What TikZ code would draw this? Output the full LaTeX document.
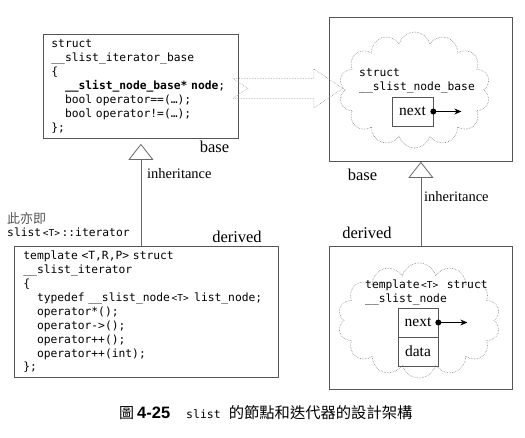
\documentclass[tikz,border=0pt]{standalone}
\usepackage{fontspec}
\setmainfont{Liberation Serif}
\newfontfamily\codefont{DejaVu Sans Mono}
\newfontfamily\cjkfont{Noto Sans CJK TC}
\newfontfamily\capsans{Liberation Sans}
\usepackage{tikz}
\usetikzlibrary{arrows.meta,shapes.symbols,positioning}
\usepackage{xcolor}
\definecolor{boxgray}{RGB}{85,85,85}
\definecolor{linegray}{RGB}{105,105,105}
\definecolor{dotgray}{RGB}{130,130,130}
\newcommand{\code}{\codefont\fontsize{11.3}{13.9}\selectfont}
\newcommand{\smallT}{\makebox[20.4pt]{\fontsize{9.5}{10}\selectfont<T>}}
\newcommand{\ind}{\phantom{xx}}
\tikzstyle{codebox} = [draw=boxgray, line width=0.8pt, anchor=north west, align=left, inner xsep=8pt, font=\code]
\tikzstyle{framebox} = [draw=boxgray, line width=0.8pt, anchor=north west, inner sep=0pt]
\tikzstyle{fluffy} = [cloud, cloud puffs=14, draw=dotgray, densely dotted, line width=0.6pt, inner sep=0pt]
\tikzstyle{cell} = [draw=boxgray, line width=0.7pt, minimum width=41pt, minimum height=29pt, inner sep=0pt, font=\fontsize{15.5}{16}\selectfont]
\tikzstyle{inherit} = [draw=linegray, line width=0.8pt, -{Triangle[open, length=16pt, width=25pt, fill=white]}]
\tikzstyle{ptr} = [line width=0.8pt, -{Stealth[length=7pt, width=6pt]}]
\tikzstyle{hollow} = [draw=dotgray!80, densely dotted, line width=0.6pt]
\tikzstyle{rolelabel} = [inner sep=0pt, font=\fontsize{16.5}{18}\selectfont]
\tikzstyle{inhlabel} = [inner sep=0pt, anchor=west, font=\fontsize{14.5}{16}\selectfont]
\tikzstyle{cloudtext} = [anchor=north west, inner sep=0pt, align=left, font=\code]

\begin{document}
\begin{tikzpicture}[x=1pt, y=-1pt]
\useasboundingbox (0,0) rectangle (525,437);

% Iterator side
\node[codebox, text width=179pt, minimum height=104pt] (itbase) at (43,34)
  {struct\\
   \_\_slist\_iterator\_base\\
   \{\\
   \ind\textbf{\_\_slist\_node\_base* node};\\
   \ind bool operator==(…);\\
   \ind bool operator!=(…);\\
   \};};
\node[codebox, text width=246pt, inner xsep=9pt, minimum height=131pt] (iter) at (14,246)
  {template <T,R,P> struct\\
   \_\_slist\_iterator\\
   \{\\
   \ind typedef \_\_slist\_node\smallT{} list\_node;\\
   \ind operator*();\\
   \ind operator->();\\
   \ind operator++();\\
   \ind operator++(int);\\
   \};};
\draw[inherit] (iter.north -| itbase.south) -- ([yshift=-5pt]itbase.south);
\node[rolelabel] (lbase) at (214.5,147) {base};
\node[inhlabel] (linh) at (147,174) {inheritance};
\node[rolelabel] (lderived) at (237,237) {derived};
\node[anchor=west, inner sep=0pt, text=boxgray, font=\cjkfont\fontsize{13}{14}\selectfont] (alias) at (7,219) {此亦即};
\node[anchor=west, inner sep=0pt, font=\code] (aliascode) at (7,232) {slist\smallT::iterator};

% Node side
\node[framebox, minimum width=183pt, minimum height=144pt] (nodebase) at (329,17) {};
\node[fluffy, minimum width=151pt, minimum height=116pt] (cloudA) at (414.5,90) {};
\node[cloudtext] (basetxt) at (359,68) {struct\\\_\_slist\_node\_base};
\node[cell] (nextA) at (412.5,111.5) {next};
\fill (nextA.east) circle (3pt);
\coordinate (endA) at ([xshift=28pt]nextA.east);
\draw[ptr] (nextA.east) -- (endA);

\node[framebox, minimum width=183pt, minimum height=143pt] (listnode) at (329,246) {};
\node[fluffy, minimum width=162pt, minimum height=115pt] (cloudB) at (419,320.5) {};
\node[cloudtext] (listtxt) at (365,280) {template\smallT{} struct\\\_\_slist\_node};
\node[cell, minimum width=40pt] (nextB) at (418,322.5) {next};
\node[cell, minimum width=40pt, below=-0.7pt of nextB] (dataB) {data};
\fill (nextB.east) circle (3pt);
\coordinate (endB) at ([xshift=29pt]nextB.east);
\draw[ptr] (nextB.east) -- (endB);

\draw[inherit] (listnode.north) -- (nodebase.south);
\node[rolelabel] (rbase) at (362.5,175) {base};
\node[inhlabel] (rinh) at (424,197) {inheritance};
\node[rolelabel] (rderived) at (367,233) {derived};

% Hollow arrow
\coordinate (tail) at ([xshift=-6pt,yshift=-2pt]itbase.east);
\draw[hollow] (tail) ++(0,-10) -- ++(81,0) -- ++(0,-9.5) -- ++(29,19.5) -- ++(-29,19.5)
  -- ++(0,-9.5) -- ++(-81,0) -- ++(15,-10) -- cycle;

% Caption
\node[anchor=west, inner sep=0pt] (caption) at (119,413)
  {{\cjkfont\fontsize{15}{16}\selectfont 圖}\hspace{3pt}{\capsans\bfseries\fontsize{16.5}{16}\selectfont 4-25}\hspace{16pt}{\codefont\fontsize{11.5}{14}\selectfont slist}\hspace{8pt}{\cjkfont\fontsize{15.3}{16}\selectfont 的節點和迭代器的設計架構}};
\end{tikzpicture}
\end{document}
